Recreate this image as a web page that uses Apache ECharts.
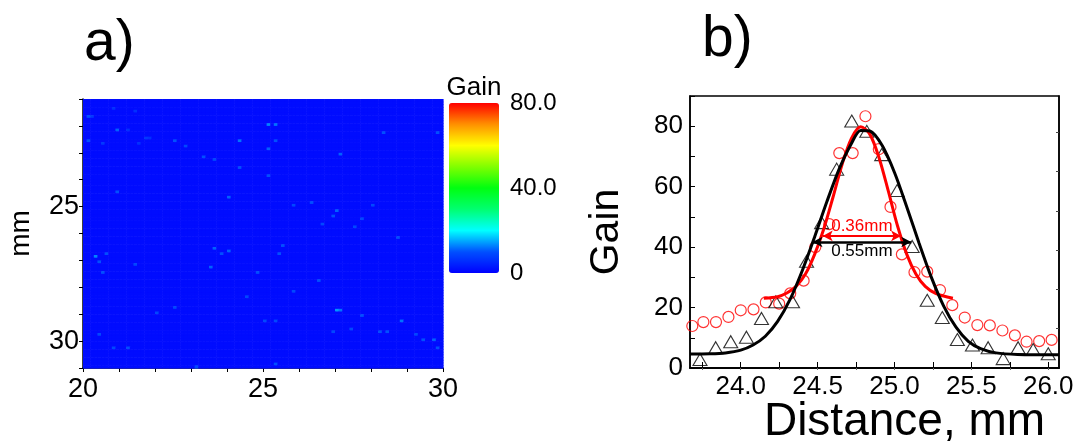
<!DOCTYPE html>
<html>
<head>
<meta charset="utf-8">
<script src="https://cdn.jsdelivr.net/npm/echarts@6/dist/echarts.min.js"></script>
<style>
  html, body { margin: 0; padding: 0; background: #fff; }
  #chart { width: 1081px; height: 448px; }
</style>
</head>
<body>
<div id="chart"></div>
<script>
// ---------- panel a: gain map ----------
const mapX = [20, 30];            // mm, horizontal extent
const mapY = [21, 31];            // mm, vertical extent (top to bottom)
const mapCell = 0.1;              // mm per cell
const gainFloor = 1.5;            // typical background gain
// brighter speckles: [x mm, y mm, gain]
const gainSpots = [
  [25.1, 21.9, 13], [25.3, 21.9, 12], [24.3, 22.5, 12], [25.1, 22.8, 11], [25.3, 22.5, 10],
  [20.9, 22.1, 11], [20.1, 21.6, 10], [20.1, 22.5, 10], [23.3, 23.1, 10], [23.6, 23.2, 9],
  [22.5, 22.5, 10], [22.8, 22.7, 9], [28.3, 22.2, 10], [29.8, 22.2, 10], [27.1, 23.0, 11],
  [25.1, 23.8, 10], [24.3, 23.5, 10], [24.0, 24.6, 11], [20.9, 24.4, 10], [27.0, 25.1, 11],
  [26.9, 25.3, 10], [28.0, 24.9, 9], [28.7, 26.1, 10], [27.7, 25.4, 9], [20.3, 26.8, 13],
  [20.6, 26.7, 10], [20.4, 27.0, 10], [23.6, 26.5, 11], [23.8, 26.7, 10], [24.0, 26.6, 11],
  [23.5, 27.2, 11], [25.5, 26.4, 10], [25.4, 26.7, 10], [21.4, 27.1, 9], [24.8, 27.4, 10],
  [26.5, 27.7, 10], [25.8, 28.1, 9], [27.0, 28.8, 14], [27.1, 28.8, 12], [27.7, 29.0, 10],
  [28.8, 29.2, 12], [28.2, 29.6, 10], [28.4, 29.6, 10], [29.2, 29.7, 9], [29.4, 29.9, 10],
  [29.7, 29.9, 11], [29.8, 30.2, 10], [21.2, 30.2, 10], [20.8, 30.2, 9], [25.3, 30.8, 10],
  [23.1, 30.9, 9], [22.0, 28.9, 9], [22.5, 28.7, 9], [20.4, 29.7, 9], [20.5, 27.4, 10],
  [26.6, 25.6, 9], [27.5, 25.7, 9], [26.3, 24.8, 10], [25.8, 24.9, 9], [24.5, 28.3, 9],
  [25.0, 29.2, 9], [25.3, 29.2, 9], [27.4, 29.5, 9], [26.9, 29.6, 9],
  [20.1, 21.6, 7], [20.2, 21.6, 7], [20.9, 22.1, 6], [21.7, 22.4, 7], [21.8, 22.4, 6],
  [21.4, 21.4, 6], [20.8, 21.3, 6], [20.5, 22.6, 7], [21.2, 22.1, 6], [21.5, 22.6, 6]
];
const mapXLabels = [20, 25, 30];
const mapYLabels = [25, 30];

// colour bar
const gainRange = [0, 80];
const gainColors = ['#0000ff', '#0050ff', '#00ffff', '#00ff70', '#00ff10',
                    '#80ff00', '#ffff00', '#ff9000', '#ff0000'];
const colorbarTicks = [0, 40, 80];
const colorbarLabels = ['0', '40.0', '80.0'];

// ---------- panel b: gain profiles ----------
const trianglePts = [
  [23.735, 2.8], [23.837, 6.7], [23.935, 8.7], [24.037, 10.2], [24.135, 16.4],
  [24.228, 21.9], [24.337, 21.9], [24.428, 35.3], [24.526, 48.1], [24.624, 65.8],
  [24.722, 81.7], [24.820, 78.3], [24.917, 70.6], [25.017, 58.7], [25.115, 40.2],
  [25.213, 22.4], [25.311, 16.7], [25.409, 9.4], [25.507, 7.6], [25.609, 6.7],
  [25.707, 3.1], [25.804, 6.7], [25.902, 6.1], [26.000, 4.7]
];
const circlePts = [
  [23.685, 13.9], [23.757, 15.2], [23.839, 15.2], [23.920, 16.9], [24.000, 19.1],
  [24.083, 19.4], [24.163, 21.7], [24.250, 21.3], [24.322, 24.7], [24.409, 28.9],
  [24.485, 40.0], [24.576, 47.6], [24.641, 71.1], [24.728, 71.1], [24.811, 83.3],
  [24.898, 72.4], [24.974, 53.3], [25.048, 37.6], [25.130, 31.7], [25.213, 31.9],
  [25.296, 25.8], [25.376, 20.8], [25.457, 16.7], [25.539, 14.2], [25.620, 14.1],
  [25.702, 12.4], [25.783, 10.8], [25.859, 8.7], [25.941, 8.9], [26.022, 9.3]
];
const blackFit = [
  [23.67, 4.6], [23.80, 4.7], [23.90, 5.0], [24.00, 5.9], [24.08, 7.6],
  [24.16, 10.5], [24.24, 15.4], [24.32, 22.6], [24.40, 32.2], [24.48, 43.3],
  [24.56, 55.0], [24.64, 65.8], [24.72, 74.3], [24.78, 78.6], [24.84, 78.4],
  [24.92, 73.6], [25.00, 64.7], [25.08, 53.3], [25.16, 41.3], [25.24, 30.0],
  [25.32, 20.5], [25.40, 13.5], [25.48, 8.8], [25.56, 6.4], [25.66, 5.0],
  [25.80, 4.5], [26.07, 4.4]
];
const redFit = [
  [24.15, 23.1], [24.24, 23.6], [24.30, 24.8], [24.36, 27.0], [24.42, 31.0],
  [24.48, 37.5], [24.54, 46.0], [24.60, 56.5], [24.66, 67.5], [24.72, 76.0],
  [24.78, 79.8], [24.84, 77.3], [24.90, 69.5], [24.96, 58.5], [25.02, 47.0],
  [25.08, 37.6], [25.14, 31.0], [25.20, 27.0], [25.27, 24.6], [25.38, 23.1]
];
// width markers: [[x start, x end], height, text]
const redWidth = [[24.533, 25.043], 43.7, '0.36mm'];
const blackWidth = [[24.467, 25.109], 41.7, '0.55mm'];

const profileX = [23.67, 26.07];
const profileY = [0, 90];
const profileXLabels = [24.0, 24.5, 25.0, 25.5, 26.0];
const profileXTicks = [23.75, 24.0, 24.25, 24.5, 24.75, 25.0, 25.25, 25.5, 25.75, 26.0];
const profileYLabels = [0, 20, 40, 60, 80];
const profileYTicks = [0, 10, 20, 30, 40, 50, 60, 70, 80, 90];
const profileRightTicks = [13, 26, 39, 52, 65, 78];

// ---------- build ----------
const FONT = '"Liberation Sans", Arial, sans-serif';
const nx = Math.round((mapX[1] - mapX[0]) / mapCell);
const ny = Math.round((mapY[1] - mapY[0]) / mapCell);
const grid = [];
for (let j = 0; j < ny; j++) {
  const row = [];
  for (let i = 0; i < nx; i++) row.push(gainFloor);
  grid.push(row);
}
gainSpots.forEach(([x, y, g]) => {
  const i = Math.round((x - mapX[0]) / mapCell);
  const j = Math.round((y - mapY[0]) / mapCell);
  if (i >= 0 && i < nx && j >= 0 && j < ny) grid[j][i] = Math.max(grid[j][i], g);
});
const mapData = [];
for (let j = 0; j < ny; j++)
  for (let i = 0; i < nx; i++)
    mapData.push([mapX[0] + i * mapCell, mapY[0] + j * mapCell, grid[j][i]]);

const black = '#000';
const tickText = (size) => ({ color: black, fontSize: size, fontFamily: FONT });

function widthLine(w, color, pos, lw) {
  return {
    silent: true,
    symbol: ['arrow', 'arrow'],
    symbolSize: [8, 10],
    lineStyle: { color: color, width: lw, type: 'solid' },
    label: {
      show: true, position: pos, distance: 1, formatter: w[2],
      color: color, fontSize: 17, fontFamily: FONT
    },
    emphasis: { disabled: true },
    data: [[{ coord: [w[0][0], w[1]] }, { coord: [w[0][1], w[1]] }]]
  };
}

const chart = echarts.init(document.getElementById('chart'), null, { renderer: 'canvas' });
chart.setOption({
  animation: false,
  backgroundColor: '#fff',
  textStyle: { fontFamily: FONT },
  title: [
    { text: 'a)', left: 84, top: 16, padding: 0, textStyle: { fontSize: 57, fontWeight: 'normal', color: black, fontFamily: FONT } },
    { text: 'b)', left: 702, top: 12, padding: 0, textStyle: { fontSize: 57, fontWeight: 'normal', color: black, fontFamily: FONT } }
  ],
  grid: [
    { left: 83, top: 99, width: 360, height: 269, outerBoundsMode: 'none', containLabel: false },
    { left: 690, top: 96, width: 369, height: 272, outerBoundsMode: 'none', containLabel: false,
      show: true, borderColor: black, borderWidth: 1.5, backgroundColor: 'transparent' },
    { left: 449, top: 103, width: 50, height: 170, outerBoundsMode: 'none', containLabel: false }
  ],
  visualMap: {
    type: 'continuous',
    seriesIndex: 0,
    dimension: 2,
    min: gainRange[0], max: gainRange[1],
    calculable: false,
    realtime: false,
    text: null,
    showLabel: false,
    itemWidth: 50, itemHeight: 170,
    left: 434, top: 88,
    inRange: { color: gainColors }
  },
  xAxis: [
    {
      gridIndex: 0, type: 'value', min: mapX[0], max: mapX[1], interval: 1,
      axisLine: { lineStyle: { color: black, width: 1.5 } },
      axisTick: { length: 4, lineStyle: { color: black } },
      axisLabel: { customValues: mapXLabels, margin: 8, ...tickText(27) },
      splitLine: { show: false }
    },
    {
      gridIndex: 1, type: 'value', min: profileX[0], max: profileX[1],
      name: 'Distance, mm', nameLocation: 'middle', nameGap: 31, nameMoveOverlap: false,
      nameTextStyle: { fontSize: 46, color: black, fontFamily: FONT, padding: [0, 0, 0, 60] },
      axisLine: { lineStyle: { color: black, width: 1.5 } },
      axisTick: { inside: true, length: 6, customValues: profileXTicks, lineStyle: { color: black } },
      axisLabel: { customValues: profileXLabels, formatter: v => v.toFixed(1), margin: 6, ...tickText(26) },
      splitLine: { show: false }
    },
    {
      gridIndex: 1, type: 'value', position: 'top', min: profileX[0], max: profileX[1],
      axisLine: { lineStyle: { color: black, width: 1.5 } },
      axisTick: { inside: true, length: 2, customValues: profileXTicks, lineStyle: { color: '#666' } },
      axisLabel: { show: false },
      splitLine: { show: false }
    },
    {
      gridIndex: 2, type: 'value', position: 'top', min: 0, max: 1,
      name: 'Gain', nameLocation: 'middle', nameGap: 2,
      nameTextStyle: { fontSize: 26, color: black, fontFamily: FONT },
      axisLine: { show: false }, axisTick: { show: false }, axisLabel: { show: false },
      splitLine: { show: false }
    }
  ],
  yAxis: [
    {
      gridIndex: 0, type: 'value', min: mapY[0], max: mapY[1], interval: 1, inverse: true,
      name: 'mm', nameLocation: 'middle', nameGap: 48, nameRotate: 90,
      nameTextStyle: { fontSize: 28, color: black, fontFamily: FONT },
      axisLine: { lineStyle: { color: black, width: 1.5 } },
      axisTick: { length: 4, lineStyle: { color: black } },
      axisLabel: { customValues: mapYLabels, margin: 4, ...tickText(27) },
      splitLine: { show: false }
    },
    {
      gridIndex: 1, type: 'value', min: profileY[0], max: profileY[1],
      name: 'Gain', nameLocation: 'middle', nameGap: 63, nameRotate: 90,
      nameTextStyle: { fontSize: 41, color: black, fontFamily: FONT },
      axisLine: { lineStyle: { color: black, width: 1.5 } },
      axisTick: { inside: true, length: 5, customValues: profileYTicks, lineStyle: { color: black } },
      axisLabel: { customValues: profileYLabels, margin: 7, ...tickText(26) },
      splitLine: { show: false }
    },
    {
      gridIndex: 1, type: 'value', position: 'right', min: profileY[0], max: profileY[1],
      axisLine: { lineStyle: { color: black, width: 1.5 } },
      axisTick: { inside: true, length: 3, customValues: profileRightTicks, lineStyle: { color: '#444' } },
      axisLabel: { show: false },
      splitLine: { show: false }
    },
    {
      gridIndex: 2, type: 'value', position: 'right', min: gainRange[0], max: gainRange[1],
      axisLine: { show: false }, axisTick: { show: false },
      axisLabel: {
        customValues: colorbarTicks,
        formatter: v => colorbarLabels[colorbarTicks.indexOf(v)],
        margin: 11, ...tickText(24)
      },
      splitLine: { show: false }
    }
  ],
  series: [
    {
      type: 'custom',
      xAxisIndex: 0, yAxisIndex: 0,
      clip: true,
      silent: true,
      encode: { x: 0, y: 1 },
      data: mapData,
      renderItem: function (params, api) {
        const x = api.value(0), y = api.value(1);
        const p0 = api.coord([x, y]);
        const p1 = api.coord([x + mapCell, y + mapCell]);
        return {
          type: 'rect',
          shape: {
            x: Math.min(p0[0], p1[0]), y: Math.min(p0[1], p1[1]),
            width: Math.abs(p1[0] - p0[0]) + 0.6, height: Math.abs(p1[1] - p0[1]) + 0.6
          },
          style: { fill: api.visual('color') }
        };
      }
    },
    {
      type: 'scatter', xAxisIndex: 1, yAxisIndex: 1, silent: true,
      symbol: 'circle', symbolSize: 11,
      itemStyle: { color: 'rgba(0,0,0,0)', borderColor: '#ff0000', borderWidth: 1.2 },
      data: circlePts
    },
    {
      type: 'scatter', xAxisIndex: 1, yAxisIndex: 1, silent: true,
      symbol: 'triangle', symbolSize: [14, 12],
      itemStyle: { color: 'rgba(0,0,0,0)', borderColor: black, borderWidth: 1.1 },
      data: trianglePts
    },
    {
      type: 'line', xAxisIndex: 1, yAxisIndex: 1, silent: true,
      smooth: 0.3, showSymbol: false,
      lineStyle: { color: '#ff0000', width: 3 },
      data: redFit,
      markLine: widthLine(redWidth, '#ff0000', 'insideMiddleTop', 2)
    },
    {
      type: 'line', xAxisIndex: 1, yAxisIndex: 1, silent: true,
      smooth: 0.3, showSymbol: false,
      lineStyle: { color: black, width: 3 },
      data: blackFit,
      markLine: widthLine(blackWidth, black, 'insideMiddleBottom', 2.5)
    }
  ]
});
</script>
</body>
</html>
